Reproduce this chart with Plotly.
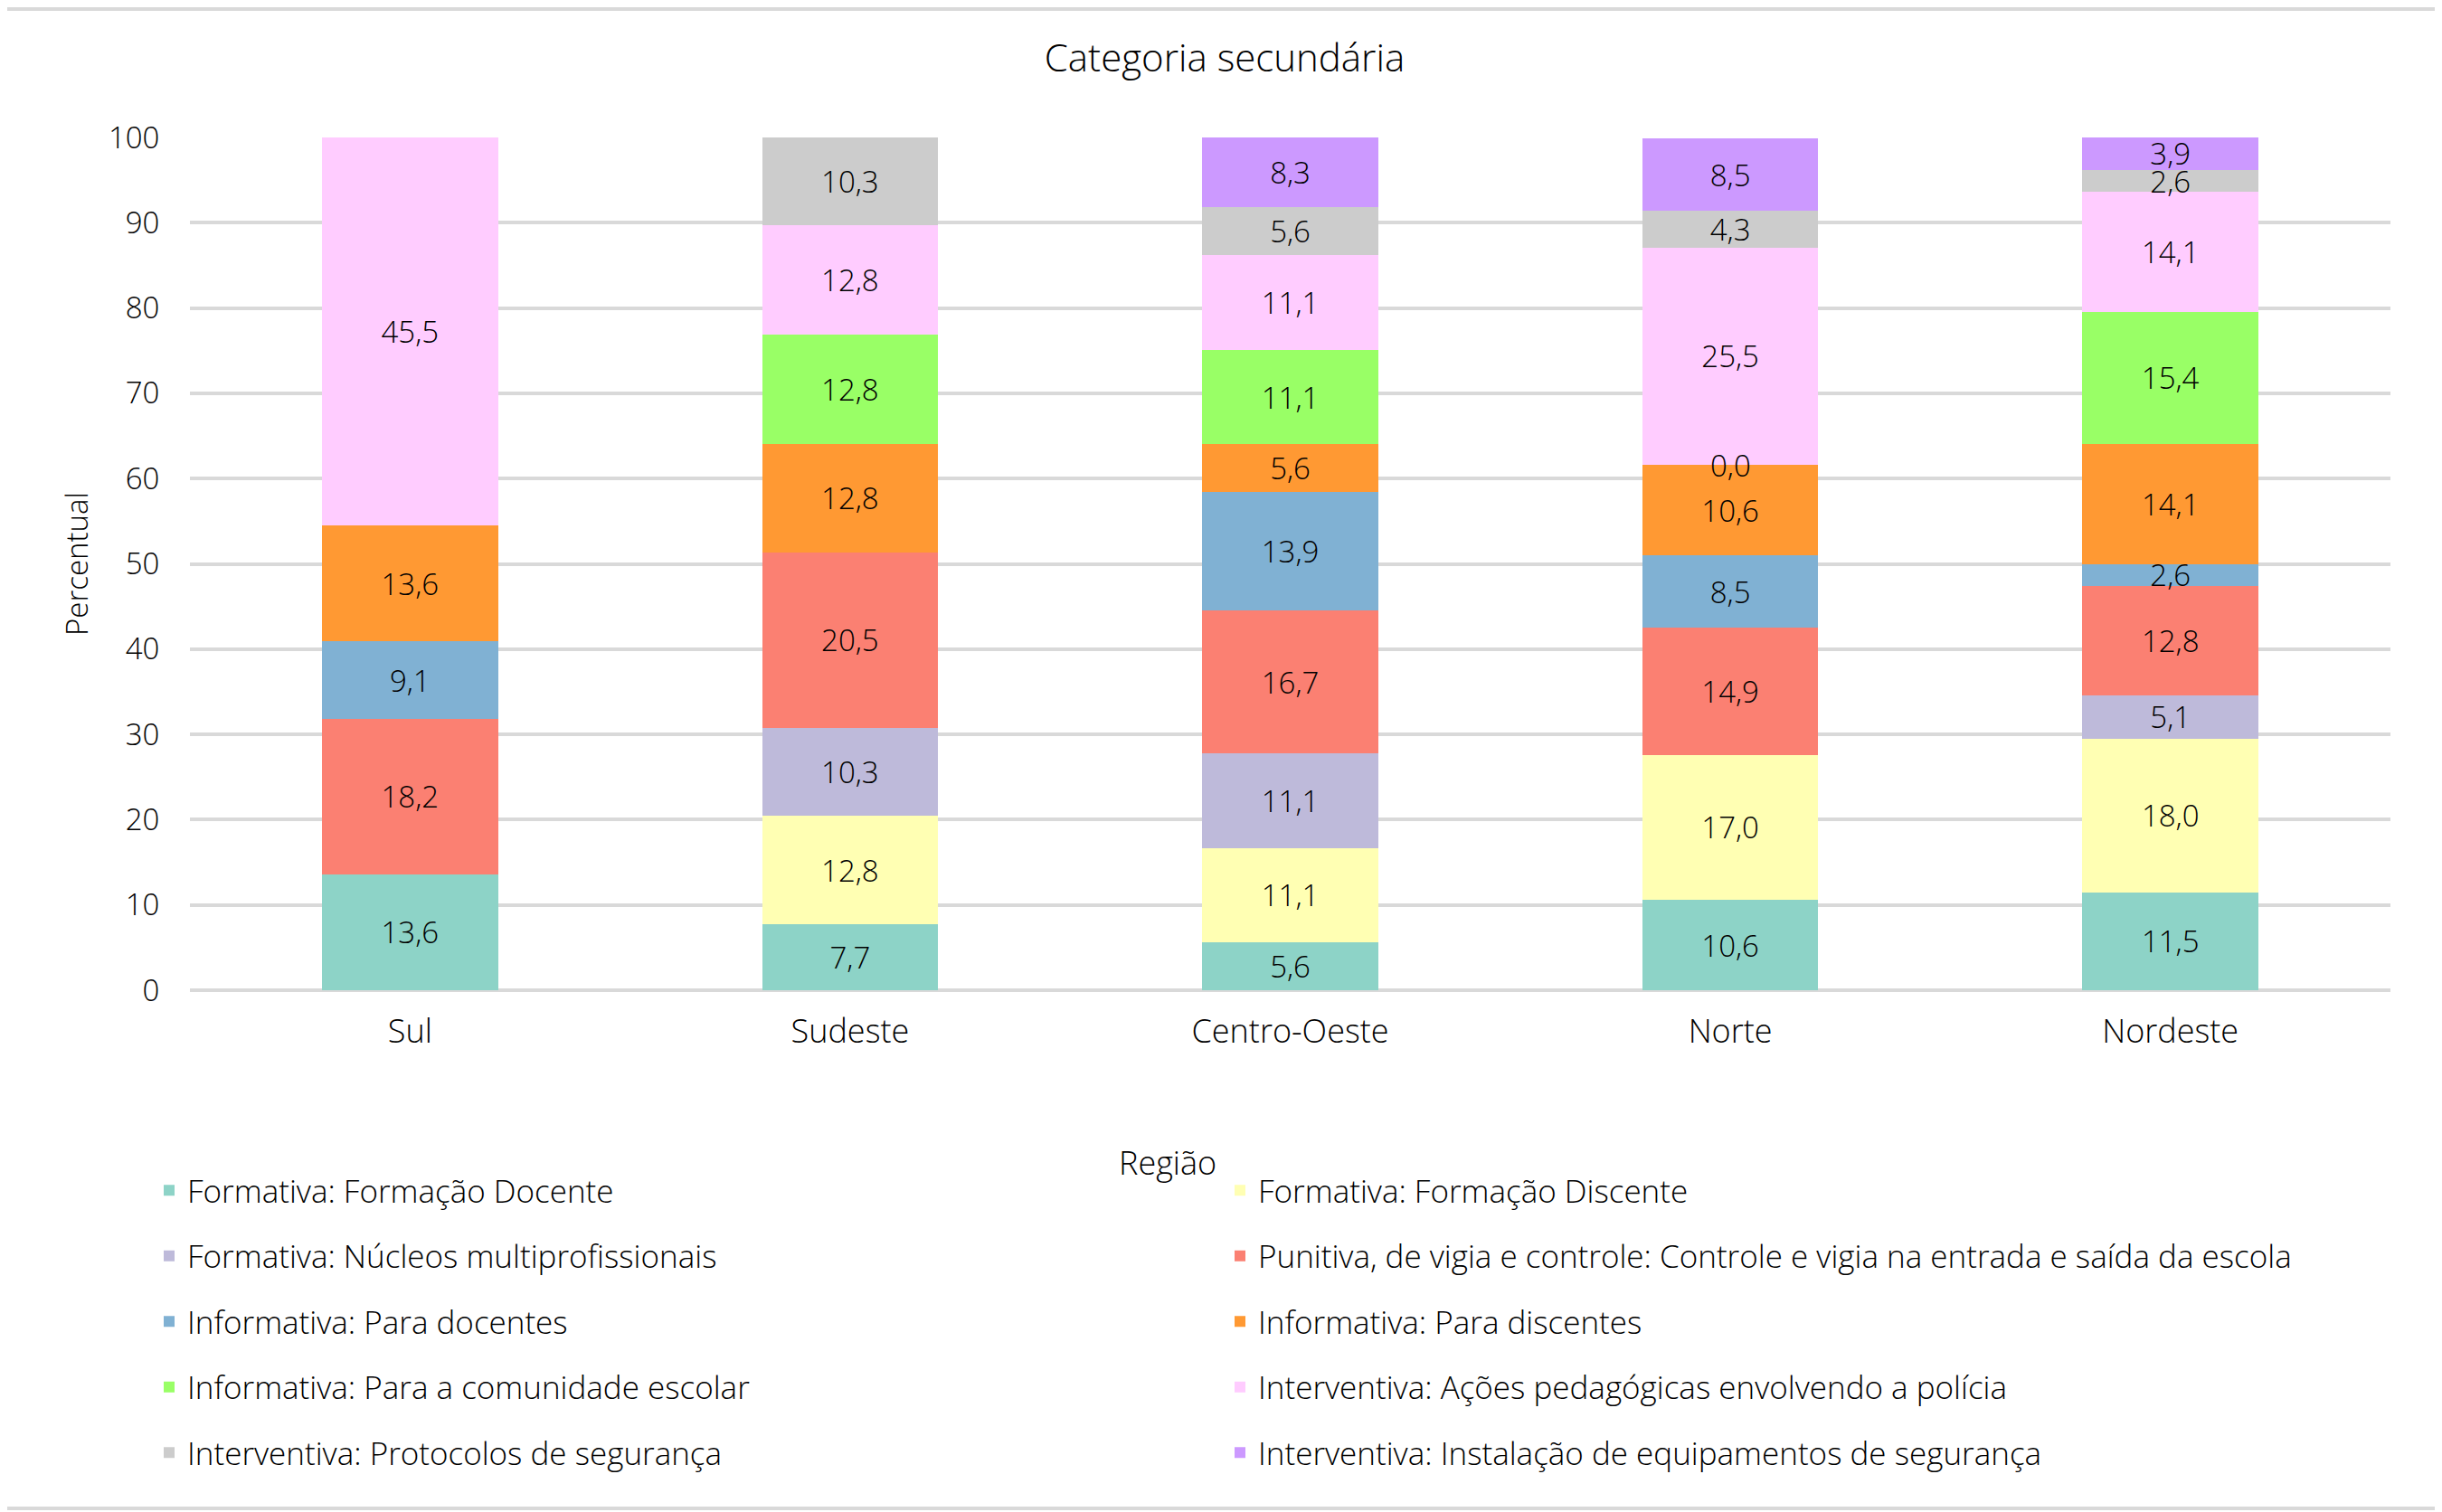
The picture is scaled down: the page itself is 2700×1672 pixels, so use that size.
#!/usr/bin/env python3
# -*- coding: utf-8 -*-
# Categoria secundária por região - barras empilhadas (percentual)

import plotly.graph_objects as go

regioes = ["Sul", "Sudeste", "Centro-Oeste", "Norte", "Nordeste"]

# valores em % por categoria (None = célula vazia, sem rótulo)
formacao_docente = [13.6, 7.7, 5.6, 10.6, 11.5]
formacao_discente = [None, 12.8, 11.1, 17.0, 18.0]
nucleos_multiprof = [None, 10.3, 11.1, None, 5.1]
controle_vigia = [18.2, 20.5, 16.7, 14.9, 12.8]
info_docentes = [9.1, None, 13.9, 8.5, 2.6]
info_discentes = [13.6, 12.8, 5.6, 10.6, 14.1]
info_comunidade = [None, 12.8, 11.1, 0.0, 15.4]
acoes_policia = [45.5, 12.8, 11.1, 25.5, 14.1]
protocolos = [None, 10.3, 5.6, 4.3, 2.6]
equipamentos = [None, None, 8.3, 8.5, 3.9]

nomes = [
    "Formativa: Formação Docente",
    "Formativa: Formação Discente",
    "Formativa: Núcleos multiprofissionais",
    "Punitiva, de vigia e controle: Controle e vigia na entrada e saída da escola",
    "Informativa: Para docentes",
    "Informativa: Para discentes",
    "Informativa: Para a comunidade escolar",
    "Interventiva: Ações pedagógicas envolvendo a polícia",
    "Interventiva: Protocolos de segurança",
    "Interventiva: Instalação de equipamentos de segurança",
]
series = [formacao_docente, formacao_discente, nucleos_multiprof, controle_vigia,
          info_docentes, info_discentes, info_comunidade, acoes_policia,
          protocolos, equipamentos]
cores = ["#8DD3C7", "#FFFFB3", "#BEBADA", "#FB8072", "#80B1D3",
         "#FF9933", "#99FF66", "#FFCCFF", "#CCCCCC", "#CC99FF"]

FONTE = "Open Sans"
PESO = 300
TAM = 33        # rótulos das barras e eixo y
TAM_CAT = 36    # regiões e "Região"
TAM_LEG = 35
TAM_TIT = 42
COR_TEXTO = "#000000"
COR_GRADE = "#D9D9D9"

# a página tem 8px de margem no body: a figura começa em (8, 8) na tela
OFF = 8
W, H = 2700 - OFF, 1672 - OFF
ML, MR, MT, MB = 210 - OFF, 57, 152 - OFF, 577
PW = W - ML - MR
PH = H - MT - MB


def px_x(p):
    # posição na tela -> coordenada paper
    return (p - OFF - ML) / PW


def px_y(p):
    return (H - MB - (p - OFF)) / PH


def fonte(tam=TAM):
    return dict(family=FONTE, size=tam, color=COR_TEXTO, weight=PESO)


def build_figure():
    fig = go.Figure()

    for i, (nome, valores, cor) in enumerate(zip(nomes, series, cores)):
        fig.add_trace(go.Bar(
            x=regioes,
            y=valores,
            name=nome,
            marker=dict(color=cor, line=dict(width=0)),
            texttemplate="%{y:.1f}",
            textposition="inside",
            insidetextanchor="middle",
            textangle=0,
            textfont=fonte(),
            legend="legend" if i % 2 == 0 else "legend2",
            legendgroup=nome,
            hoverinfo="skip",
        ))

    # barras de altura zero (ex.: 0,0 no Norte) não recebem texto no plotly
    for s, valores in enumerate(series):
        for j, v in enumerate(valores):
            if v == 0:
                base = sum(series[k][j] or 0 for k in range(s))
                fig.add_annotation(
                    x=regioes[j], y=base, text=f"{v:.1f}".replace(".", ","),
                    showarrow=False, yanchor="middle", font=fonte(),
                )

    # título do eixo x (deslocado à esquerda, como no original)
    fig.add_annotation(
        x=px_x(1291), y=px_y(1285), xref="paper", yref="paper",
        text="Região", showarrow=False, xanchor="center", yanchor="middle",
        font=fonte(TAM_CAT),
    )

    # linhas de moldura no topo e na base
    for yy in (px_y(OFF + 2), px_y(1668)):
        fig.add_shape(type="line", xref="paper", yref="paper",
                      x0=px_x(OFF), x1=px_x(2700), y0=yy, y1=yy,
                      line=dict(color=COR_GRADE, width=4))

    leg = dict(
        orientation="v",
        xanchor="left",
        yanchor="top",
        y=px_y(1287),
        font=fonte(TAM_LEG),
        bgcolor="rgba(0,0,0,0)",
        itemwidth=30,
        tracegroupgap=24,
        traceorder="grouped",
    )

    fig.update_layout(
        width=W,
        height=H,
        margin=dict(l=ML, r=MR, t=MT, b=MB, pad=0),
        barmode="stack",
        bargap=0.6,
        separators=",.",
        plot_bgcolor="white",
        paper_bgcolor="white",
        font=fonte(),
        uniformtext=dict(minsize=TAM, mode="show"),
        title=dict(
            text="Categoria secundária",
            x=0.5, xanchor="center",
            y=1 - (64 - OFF) / H, yanchor="middle",
            font=fonte(TAM_TIT),
        ),
        legend=dict(leg, x=px_x(167)),
        legend2=dict(leg, x=px_x(1351)),
        showlegend=True,
    )

    fig.update_xaxes(
        showline=False,
        showgrid=False,
        ticks="outside",
        ticklen=14,
        tickcolor="rgba(0,0,0,0)",
        tickfont=fonte(TAM_CAT),
    )
    fig.update_yaxes(
        range=[0, 100],
        dtick=10,
        showgrid=True,
        gridcolor=COR_GRADE,
        gridwidth=4,
        zeroline=True,
        zerolinecolor=COR_GRADE,
        zerolinewidth=4,
        ticks="outside",
        ticklen=26,
        tickcolor="rgba(0,0,0,0)",
        tickfont=fonte(),
        title=dict(text="Percentual", standoff=12, font=fonte()),
    )
    return fig


def main():
    fig = build_figure()
    fig.write_html("out.html")


if __name__ == "__main__":
    main()
